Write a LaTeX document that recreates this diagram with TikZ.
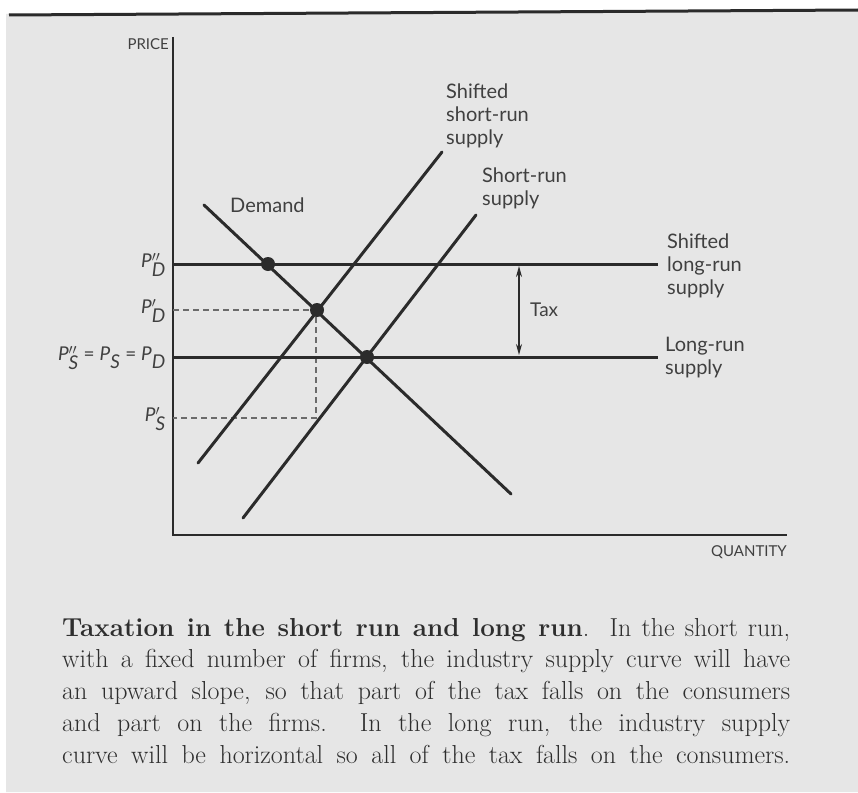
\documentclass[tikz,border=0pt]{standalone}
\usepackage{fontspec}
\newfontfamily\lab{Lato}
\usetikzlibrary{arrows.meta}
\definecolor{paper}{HTML}{E6E6E6}
\definecolor{ink}{HTML}{2B2B2B}
\definecolor{txt}{HTML}{404040}
\definecolor{captxt}{HTML}{2E2E2E}
\newcommand\PL[2]{\textit{P}$^{#1}_{\textit{#2}}$}
\newcommand\capline[1]{\makebox[728pt][s]{#1}}
\begin{document}
\begin{tikzpicture}[x=1pt,y=-1pt,
  curve/.style={ink,line width=3pt,line cap=round},
  axisline/.style={ink,line width=2.6pt},
  guide/.style={ink!70,line width=1.3pt,dash pattern=on 6pt off 4pt},
  lbl/.style={font=\lab\fontsize{20}{23}\selectfont,text=txt,align=left,inner sep=0pt,anchor=north west},
  axlbl/.style={font=\lab\fontsize{15}{17}\selectfont,text=txt,inner sep=0pt},
  plab/.style={font=\lab\fontsize{19}{21}\selectfont,text=txt,anchor=east,inner sep=0pt},
  eqdot/.style={circle,fill=ink,minimum size=14pt,inner sep=0pt},
  captext/.style={font=\fontsize{26}{32}\selectfont,text=captxt,anchor=base west,inner sep=0pt}
]
\useasboundingbox (0,0) rectangle (858,792);
\fill[white] (0,0) rectangle (858,792);
\fill[paper] (6,14) -- (858,9) -- (858,792) -- (6,792) -- cycle;
\coordinate (edgeL) at (9,15);
\coordinate (edgeR) at (858,10);
\draw[ink,line width=3pt] (edgeL) -- (edgeR);

% axes
\coordinate (O) at (173,535);
\coordinate (Ytop) at (173,37);
\coordinate (Xend) at (787,535);
\draw[axisline] (Ytop) -- (O) -- (Xend);
\node[axlbl,anchor=north east] (price) at (169,38) {PRICE};
\node[axlbl,anchor=north east] (qty) at (787,545) {QUANTITY};

% long-run supply lines
\coordinate (LRSa) at (173,264);
\coordinate (LRSb) at (658,264);
\coordinate (LRa) at (173,357);
\coordinate (LRb) at (658,357);

% dashed guides
\coordinate (gA) at (173,310);
\coordinate (gB) at (316,310);
\coordinate (gC) at (316,418);
\coordinate (gD) at (173,418);
\draw[guide] (gA) -- (gB) -- (gC) -- (gD);

\draw[curve,line cap=butt] (LRSa) -- (LRSb);
\draw[curve,line cap=butt] (LRa) -- (LRb);

% demand and short-run supplies
\coordinate (D1) at (204,205);
\coordinate (D2) at (511,494);
\coordinate (SS1) at (198,463);
\coordinate (SS2) at (442,152);
\coordinate (S1) at (243,518);
\coordinate (S2) at (476,215);
\draw[curve] (D1) -- (D2);
\draw[curve] (SS1) -- (SS2);
\draw[curve] (S1) -- (S2);

% equilibrium dots
\node[eqdot] (e1) at (268,264) {};
\node[eqdot] (e2) at (317,310) {};
\node[eqdot] (e3) at (367,357) {};

% tax arrow
\coordinate (T1) at (519,266);
\coordinate (T2) at (519,355);
\draw[ink,line width=1.5pt,{Stealth[length=11pt,width=6pt]}-{Stealth[length=11pt,width=6pt]}] (T1) -- (T2);
\node[font=\lab\fontsize{19}{21}\selectfont,text=txt,anchor=west,inner sep=0pt] (tax) at (530,310) {Tax};

% curve labels
\node[lbl] (lshss) at (446,84) {Shifted\\short-run\\supply};
\node[lbl] (lsrs) at (482,168) {Short-run\\supply};
\node[lbl] (lslr) at (667,234) {Shifted\\long-run\\supply};
\node[lbl] (llr) at (665,337) {Long-run\\supply};
\node[lbl] (ldem) at (230,198) {Demand};

% price labels
\node[plab] (pdd) at (166,265) {\PL{\prime\prime}{D}};
\node[plab] (pd) at (166,311) {\PL{\prime}{D}};
\node[plab] (peq) at (166,358) {\PL{\prime\prime}{S} = \textit{P}$_{\textit{S}}$ = \textit{P}$_{\textit{D}}$};
\node[plab] (ps) at (166,419) {\PL{\prime}{S}};

% caption
\node[captext] (c1) at (62,636) {\capline{\textbf{Taxation in the short run and long run}.\ \ In the short run,}};
\node[captext] (c2) at (62,667) {\capline{with a fixed number of firms, the industry supply curve will have}};
\node[captext] (c3) at (62,699) {\capline{an upward slope, so that part of the tax falls on the consumers}};
\node[captext] (c4) at (62,731) {\capline{and part on the firms.\ \ In the long run, the industry supply}};
\node[captext] (c5) at (62,763) {\capline{curve will be horizontal so all of the tax falls on the consumers.}};
\end{tikzpicture}
\end{document}
